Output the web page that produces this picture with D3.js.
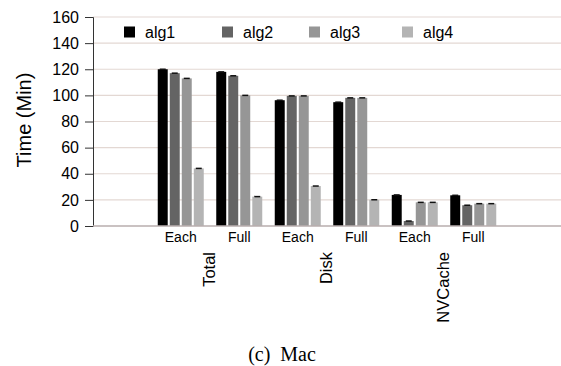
<!DOCTYPE html>
<html>
<head>
<meta charset="utf-8">
<script src="https://cdn.jsdelivr.net/npm/d3@7"></script>
<style>
  body { margin: 0; background: #fff; }
  .tick text { font-family: "Liberation Sans", Arial, sans-serif; }
</style>
</head>
<body>
<div id="graf"></div>
<script>
// datos
const grupos = ["Total", "Disk", "NVCache"]
const modos = ["Each", "Full"]
const series = ["alg1", "alg2", "alg3", "alg4"]
const colores = ["#000000", "#646464", "#969696", "#b4b4b4"]
const yTicks = [0, 20, 40, 60, 80, 100, 120, 140, 160]

// un arreglo por algoritmo, orden: Total Each, Total Full, Disk Each, Disk Full, NVCache Each, NVCache Full
const alg1 = [120, 118, 96.3, 94.8, 23.8, 23.5]
const alg2 = [117, 115, 99.6, 98.1, 3.8, 15.9]
const alg3 = [113, 100, 99.6, 98.1, 18.1, 17.1]
const alg4 = [44.1, 22.5, 30.6, 20.1, 18.1, 17.1]
const errores = [0.4, 0.4, 0.4, 0.4, 0.4, 0.4]

const valores = [alg1, alg2, alg3, alg4]

const anchoTotal = 561
const altoTotal = 366
const margins = { left: 93, top: 17, right: 0, bottom: 140 }
const ancho = anchoTotal - margins.left - margins.right
const alto = altoTotal - margins.top - margins.bottom

const svg = d3.select("#graf")
  .append("svg")
  .attr("width", anchoTotal)
  .attr("height", altoTotal)

const g = svg.append("g")
  .attr("transform", `translate(${margins.left}, ${margins.top})`)

// 8 ranuras: una vacia a cada lado
const slots = ["s0"]
grupos.forEach((gr) => modos.forEach((m) => slots.push(gr + "-" + m)))
slots.push("s7")

const x = d3.scaleBand().domain(slots).range([0, ancho])
const xs = d3.scaleBand().domain(series).range([0, 46]).paddingInner(0.17)
const y = d3.scaleLinear().domain([0, 160]).range([alto, 0])

// rejilla
g.selectAll("line.grid")
  .data(yTicks.filter((d) => d > 0))
  .enter()
  .append("line")
  .attr("x1", 0)
  .attr("x2", ancho)
  .attr("y1", (d) => y(d))
  .attr("y2", (d) => y(d))
  .attr("stroke", "#e3d8d3")
  .attr("stroke-width", 1.2)

// eje y
const yAxis = d3.axisLeft(y).tickValues(yTicks).tickSize(8).tickPadding(6)
const ejeY = g.append("g").call(yAxis)
ejeY.select(".domain").attr("stroke", "#333")
ejeY.selectAll(".tick line").attr("stroke", "#333")
ejeY.selectAll(".tick text").attr("font-size", 16).attr("fill", "#000")

// barras
const datos = []
series.forEach((s, i) => {
  valores[i].forEach((v, j) => {
    datos.push({ serie: s, slot: slots[j + 1], value: v, err: errores[j], color: colores[i] })
  })
})

const off = (x.bandwidth() - 46) / 2
g.selectAll("rect.bar")
  .data(datos)
  .enter()
  .append("rect")
  .attr("x", (d) => x(d.slot) + off + xs(d.serie))
  .attr("y", (d) => y(d.value))
  .attr("width", xs.bandwidth())
  .attr("height", (d) => alto - y(d.value))
  .attr("fill", (d) => d.color)

// barras de error
g.selectAll("line.err")
  .data(datos)
  .enter()
  .append("line")
  .attr("x1", (d) => x(d.slot) + off + xs(d.serie) + 2)
  .attr("x2", (d) => x(d.slot) + off + xs(d.serie) + xs.bandwidth() - 2)
  .attr("y1", (d) => y(d.value))
  .attr("y2", (d) => y(d.value))
  .attr("stroke", "#111")
  .attr("stroke-width", 1.5)

// eje x
g.append("line")
  .attr("x1", 0)
  .attr("x2", ancho)
  .attr("y1", alto)
  .attr("y2", alto)
  .attr("stroke", "#b8aeae")
  .attr("stroke-width", 1.5)

g.selectAll("text.modo")
  .data(slots.slice(1, 7))
  .enter()
  .append("text")
  .attr("x", (d) => x(d) + x.bandwidth() / 2)
  .attr("y", alto + 16)
  .attr("text-anchor", "middle")
  .attr("font-family", "Liberation Sans, Arial, sans-serif")
  .attr("font-size", 14)
  .text((d) => d.split("-")[1])

g.selectAll("text.grupo")
  .data(grupos)
  .enter()
  .append("text")
  .attr("transform", (d) => `translate(${x(d + "-Full") - 1}, ${alto + 26}) rotate(-90)`)
  .attr("text-anchor", "end")
  .attr("dy", "0.35em")
  .attr("font-family", "Liberation Sans, Arial, sans-serif")
  .attr("font-size", 16.5)
  .text((d) => d)

// titulo eje y
g.append("text")
  .attr("transform", `translate(-69, ${120 - margins.top}) rotate(-90)`)
  .attr("text-anchor", "middle")
  .attr("dy", "0.35em")
  .attr("font-family", "Liberation Sans, Arial, sans-serif")
  .attr("font-size", 20)
  .text("Time (Min)")

// leyenda
const legX = [124, 222, 309, 402]
const ley = g.selectAll("g.ley")
  .data(series)
  .enter()
  .append("g")
  .attr("transform", (d, i) => `translate(${legX[i] - margins.left}, ${32 - margins.top})`)

ley.append("rect")
  .attr("x", 0)
  .attr("y", -5.5)
  .attr("width", 11)
  .attr("height", 11)
  .attr("fill", (d, i) => colores[i])

ley.append("text")
  .attr("x", 21)
  .attr("dy", "0.35em")
  .attr("font-family", "Liberation Sans, Arial, sans-serif")
  .attr("font-size", 16)
  .text((d) => d)

// pie de figura
svg.append("text")
  .attr("x", 282)
  .attr("y", 354)
  .attr("dy", "0.35em")
  .attr("text-anchor", "middle")
  .attr("font-family", "Liberation Serif, Times New Roman, serif")
  .attr("font-size", 20)
  .attr("xml:space", "preserve")
  .text("(c)  Mac")
</script>
</body>
</html>
